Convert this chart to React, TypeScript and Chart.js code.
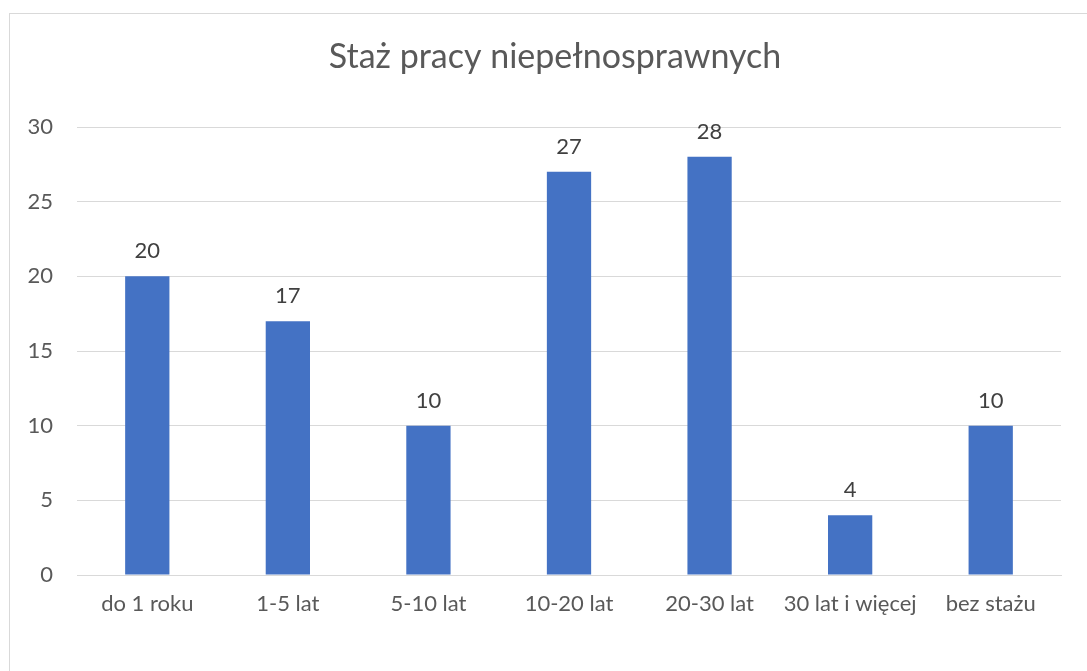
import React, { useEffect, useRef } from "react";
import { Chart, registerables } from "chart.js";

Chart.register(...registerables);

const categories = ["do 1 roku", "1-5 lat", "5-10 lat", "10-20 lat", "20-30 lat", "30 lat i więcej", "bez stażu"];
const values = [20, 17, 10, 27, 28, 4, 10];
const titleText = "Staż pracy niepełnosprawnych";

const FONT = "Lato, 'Open Sans', sans-serif";

const dataLabels = {
  id: "dataLabels",
  afterDatasetsDraw(chart: any) {
    const ctx = chart.ctx;
    const meta = chart.getDatasetMeta(0);
    ctx.save();
    ctx.font = `22px ${FONT}`;
    ctx.fillStyle = "#404040";
    ctx.textAlign = "center";
    ctx.textBaseline = "middle";
    meta.data.forEach((el: any, i: number) => {
      ctx.fillText(String(chart.data.datasets[0].data[i]), el.x, el.y - 25);
    });
    ctx.restore();
  },
};

const chartTitle = {
  id: "chartTitle",
  afterDraw(chart: any) {
    const ctx = chart.ctx;
    ctx.save();
    ctx.font = `34px ${FONT}`;
    ctx.fillStyle = "#595959";
    ctx.textAlign = "center";
    ctx.textBaseline = "middle";
    ctx.fillText(titleText, 545, 43);
    ctx.restore();
  },
};

export default function App() {
  const ref = useRef<HTMLCanvasElement | null>(null);
  useEffect(() => {
    document.body.style.overflow = "hidden";
    const chart = new Chart(ref.current as HTMLCanvasElement, {
      type: "bar",
      data: {
        labels: categories,
        datasets: [
          {
            data: values,
            backgroundColor: "#4472C4",
            categoryPercentage: 0.35,
            barPercentage: 0.9,
          },
        ],
      },
      options: {
        responsive: false,
        animation: false,
        layout: { padding: { left: 0, right: 26, top: 113, bottom: 0 } },
        plugins: {
          legend: { display: false },
          tooltip: { enabled: false },
          title: { display: false },
        },
        scales: {
          x: {
            grid: { display: false, drawTicks: false },
            border: { color: "#d9d9d9", width: 1 },
            ticks: {
              color: "#595959",
              font: { family: FONT, size: 22 },
              padding: 16,
              maxRotation: 0,
              autoSkip: false,
            },
            afterFit(scale: any) {
              scale.height = 96;
            },
          },
          y: {
            min: 0,
            max: 30,
            grid: { color: "#d9d9d9", lineWidth: 1, drawTicks: false },
            border: { display: false },
            ticks: {
              stepSize: 5,
              color: "#595959",
              font: { family: FONT, size: 22 },
              padding: 24,
            },
            afterFit(scale: any) {
              scale.width = 67;
            },
          },
        },
      },
      plugins: [dataLabels, chartTitle],
    });
    return () => chart.destroy();
  }, []);

  return (
    <div
      style={{
        position: "absolute",
        left: 9,
        top: 13,
        width: 1100,
        height: 700,
        border: "1px solid #d9d9d9",
        background: "#fff",
        boxSizing: "border-box",
      }}
    >
      <canvas
        ref={ref}
        width={1077}
        height={657}
        style={{ position: "absolute", left: 0, top: 0, width: 1077, height: 657 }}
      />
    </div>
  );
}
